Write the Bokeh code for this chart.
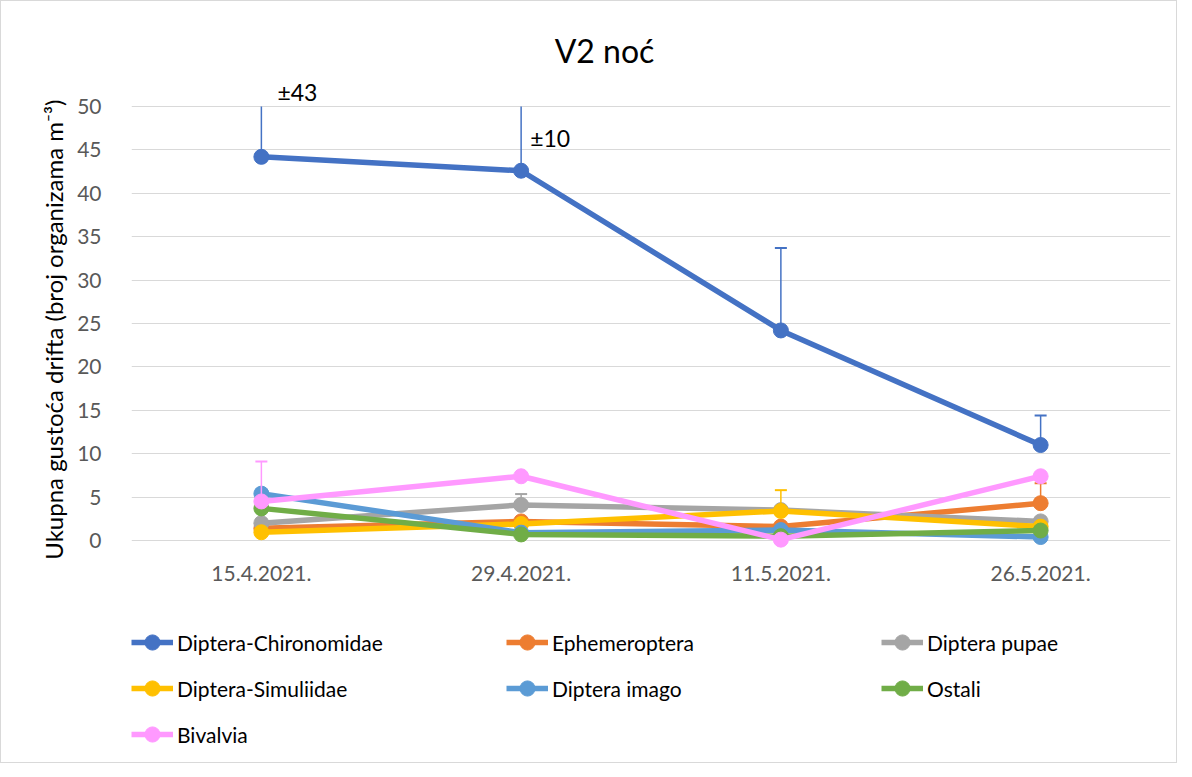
from bokeh.plotting import figure
from bokeh.models import ColumnDataSource, FactorRange, Range1d, FixedTicker, Legend, LegendItem, Label, Title
from bokeh.embed import file_html
from bokeh.resources import INLINE

# ---- data ----
dates = ["15.4.2021.", "29.4.2021.", "11.5.2021.", "26.5.2021."]
names = ["Diptera-Chironomidae", "Ephemeroptera", "Diptera pupae",
         "Diptera-Simuliidae", "Diptera imago", "Ostali", "Bivalvia"]
colors = ["#4472C4", "#ED7D31", "#A5A5A5", "#FFC000", "#5B9BD5", "#70AD47", "#FF99FF"]

chironomidae = [44.2, 42.6, 24.2, 11.0]
ephemeroptera = [1.4, 2.2, 1.6, 4.3]
pupae = [2.0, 4.1, 3.5, 2.2]
simuliidae = [0.95, 1.9, 3.4, 1.6]
imago = [5.4, 0.9, 1.2, 0.4]
ostali = [3.7, 0.7, 0.5, 1.15]
bivalvia = [4.5, 7.4, 0.1, 7.4]

chironomidae_err = [43, 10, 9.5, 3.4]
ephemeroptera_err = [0, 0, 0, 2.3]
pupae_err = [0, 1.25, 0, 0]
simuliidae_err = [0, 0, 2.4, 0]
imago_err = [0, 0, 0, 0]
ostali_err = [0, 0, 0, 0]
bivalvia_err = [4.6, 0, 0, 0]

y_ticks = [0, 5, 10, 15, 20, 25, 30, 35, 40, 45, 50]
title_text = "V2 noć"
y_label = "Ukupna gustoća drifta (broj organizama m⁻³)"
annot_texts = ["±43", "±10"]

series = [chironomidae, ephemeroptera, pupae, simuliidae, imago, ostali, bivalvia]
errors = [chironomidae_err, ephemeroptera_err, pupae_err, simuliidae_err,
          imago_err, ostali_err, bivalvia_err]

# ---- layout constants (pixels) ----
FONT = "Lato"
W, H = 1177, 763
FRAME_LEFT, FRAME_RIGHT = 130, 1169
FRAME_TOP, FRAME_BOTTOM = 20, 755
ZERO_PX = 539          # canvas y of value 0
PX_PER_UNIT = 8.68     # pixels per unit on y
y_start = -(FRAME_BOTTOM - ZERO_PX) / PX_PER_UNIT
y_end = (ZERO_PX - FRAME_TOP) / PX_PER_UNIT
y_max = y_ticks[-1]

p = figure(x_range=FactorRange(*dates, range_padding=0), y_range=Range1d(y_start, y_end),
           width=W, height=H, output_backend="svg", toolbar_location=None,
           x_axis_location=None,
           min_border_left=FRAME_LEFT, min_border_right=W - FRAME_RIGHT,
           min_border_top=FRAME_TOP, min_border_bottom=H - FRAME_BOTTOM)
p.outline_line_color = None
p.background_fill_color = "white"
p.border_fill_color = "white"
p.styles = {"border": "1px solid #D9D9D9"}

p.xgrid.grid_line_color = None
p.ygrid.ticker = FixedTicker(ticks=y_ticks)
p.ygrid.grid_line_color = "#D9D9D9"
p.ygrid.grid_line_width = 1

p.yaxis.ticker = FixedTicker(ticks=y_ticks)
p.yaxis.axis_line_color = None
p.yaxis.major_tick_line_color = None
p.yaxis.minor_tick_line_color = None
p.yaxis.major_label_standoff = 24
p.yaxis.major_label_text_font = FONT
p.yaxis.major_label_text_font_size = "21px"
p.yaxis.major_label_text_color = "#595959"

# y axis title, aligned to its top end
p.add_layout(Title(text=y_label, align="right", offset=98 - FRAME_TOP, standoff=14,
                   text_font=FONT, text_font_size="24px", text_font_style="normal",
                   text_color="#000000"), "left")

# category labels along the zero line
p.text(x=dates, y=[0] * len(dates), text=dates, text_align="center",
       text_baseline="alphabetic", y_offset=33, text_font={"value": FONT},
       text_font_size="21px", text_color="#595959")

items = []
for name, vals, errs, col in zip(names, series, errors, colors):
    src = ColumnDataSource(dict(x=dates, y=vals))
    ex = [d for d, e in zip(dates, errs) if e > 0]
    ey0 = [v for v, e in zip(vals, errs) if e > 0]
    ey1 = [min(v + e, y_max) for v, e in zip(vals, errs) if e > 0]
    cap_x = [d for d, v, e in zip(dates, vals, errs) if e > 0 and v + e <= y_max]
    cap_y = [v + e for v, e in zip(vals, errs) if e > 0 and v + e <= y_max]
    if ex:
        p.segment(x0=ex, y0=ey0, x1=ex, y1=ey1, line_color=col, line_width=1.5)
    if cap_x:
        p.scatter(x=cap_x, y=cap_y, marker="dash", size=12, line_color=col, line_width=2)
    r_line = p.line(x="x", y="y", source=src, line_color=col, line_width=5.5)
    r_pts = p.scatter(x="x", y="y", source=src, marker="circle", size=15,
                      fill_color=col, line_color=col)
    items.append(LegendItem(label=name, renderers=[r_line, r_pts]))

legend = Legend(items=items, location=(0, 3), orientation="horizontal", ncols=3,
                label_text_font=FONT, label_text_font_size="21px",
                label_text_color="#000000", glyph_width=42, glyph_height=38,
                label_height=26, label_width=321, label_standoff=4, spacing=8,
                padding=0, margin=0, border_line_color=None,
                background_fill_alpha=0)
p.add_layout(legend, "center")

# title
p.add_layout(Label(x=603 - FRAME_LEFT, y=FRAME_BOTTOM - 65 + 16, x_units="screen", y_units="screen",
                   text=title_text, text_font=FONT, text_font_size="32px",
                   text_align="center", text_baseline="alphabetic", text_color="#000000"))

# error value annotations
p.add_layout(Label(x=dates.index("15.4.2021.") + 0.5, y=chironomidae[0] + 6.26,
                   x_offset=16, y_offset=11, text=annot_texts[0], text_font=FONT,
                   text_font_size="23px", text_baseline="alphabetic",
                   text_color="#000000"))
p.add_layout(Label(x=dates.index("29.4.2021.") + 0.5, y=chironomidae[1] + 2.56,
                   x_offset=9, y_offset=11, text=annot_texts[1], text_font=FONT,
                   text_font_size="23px", text_baseline="alphabetic",
                   text_color="#000000"))

open("out.html", "w").write(file_html(p, INLINE))
